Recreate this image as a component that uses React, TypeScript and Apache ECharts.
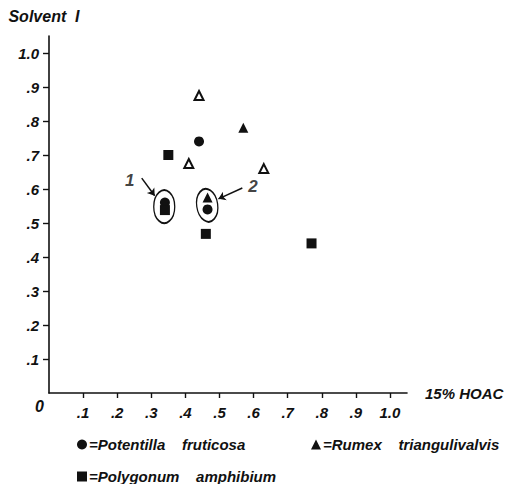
import React, { useEffect, useRef } from "react";
import * as echarts from "echarts";

// Tick values and labels
const tickValues = [0.1, 0.2, 0.3, 0.4, 0.5, 0.6, 0.7, 0.8, 0.9, 1.0];
const tickLabels = [".1", ".2", ".3", ".4", ".5", ".6", ".7", ".8", ".9", "1.0"];

// Series values: [15% HOAC, Solvent I]
const potentilla = [
  [0.44, 0.74],
  [0.34, 0.56],
  [0.465, 0.54],
];
const rumex = [
  [0.57, 0.78],
  [0.465, 0.575],
];
const unlisted = [
  [0.44, 0.875],
  [0.41, 0.675],
  [0.63, 0.66],
];
const polygonum = [
  [0.35, 0.70],
  [0.34, 0.538],
  [0.46, 0.468],
  [0.77, 0.44],
];

// Annotations (data coordinates)
const groupCenters = [
  [0.338, 0.548],
  [0.464, 0.552],
];
const arrows = [
  [[0.272, 0.632], [0.31, 0.58]],
  [[0.567, 0.603], [0.497, 0.571]],
];
const groupLabels = [
  { name: "1", value: [0.237, 0.626] },
  { name: "2", value: [0.598, 0.607] },
];

const FONT = "Liberation Sans";
const INK = "#111111";

function fmtTick(v: number) {
  const i = tickValues.findIndex((t) => Math.abs(t - v) < 1e-6);
  return i >= 0 ? tickLabels[i] : "";
}

const legendName = (n: string) => "=" + n.replace(" ", "    ");

export default function App() {
  const ref = useRef<HTMLDivElement>(null);
  useEffect(() => {
    if (!ref.current) return;
    const chart = echarts.init(ref.current, null, { renderer: "svg" });
    const labelStyle = {
      fontFamily: FONT,
      fontStyle: "italic",
      fontWeight: "bold",
      fontSize: 15,
      color: INK,
    };
    const legendCommon = {
      itemWidth: 10,
      itemHeight: 10,
      itemGap: 0,
      padding: 0,
      selectedMode: false,
      formatter: legendName,
      textStyle: { ...labelStyle, fontSize: 15, padding: [0, 0, 0, -3] },
    };
    chart.setOption({
      animation: false,
      backgroundColor: "#ffffff",
      grid: { left: 49, right: 104, top: 36, bottom: 91 },
      xAxis: {
        type: "value",
        min: 0,
        max: 1.05,
        name: "15% HOAC",
        nameLocation: "end",
        nameGap: 18,
        nameTextStyle: { ...labelStyle, fontSize: 15 },
        axisLine: { show: true, lineStyle: { color: INK, width: 1.6 } },
        axisTick: { show: true, length: 5, customValues: tickValues, lineStyle: { color: INK, width: 1.4 } },
        axisLabel: { customValues: tickValues, formatter: fmtTick, margin: 12, ...labelStyle },
        splitLine: { show: false },
      },
      yAxis: {
        type: "value",
        min: 0,
        max: 1.05,
        name: "Solvent  I",
        nameLocation: "end",
        nameGap: 12,
        nameTextStyle: { ...labelStyle, fontSize: 16, align: "center", padding: [0, 10, 0, 0] },
        axisLine: { show: true, lineStyle: { color: INK, width: 1.6 } },
        axisTick: { show: true, length: 6, customValues: tickValues, lineStyle: { color: INK, width: 1.4 } },
        axisLabel: { customValues: tickValues, formatter: fmtTick, margin: 10, ...labelStyle },
        splitLine: { show: false },
      },
      legend: [
        { ...legendCommon, data: ["Potentilla fruticosa"], left: 77, top: 437 },
        { ...legendCommon, data: ["Rumex triangulivalvis"], left: 311, top: 437 },
        { ...legendCommon, data: ["Polygonum amphibium"], left: 77, top: 469 },
      ],
      graphic: [
        {
          type: "text",
          left: 35,
          top: 398,
          style: { text: "0", font: `italic bold 16px "${FONT}"`, fill: INK },
        },
      ],
      series: [
        {
          name: "groups",
          type: "scatter",
          z: 1,
          data: [
            { value: groupCenters[0], symbolRotate: 0 },
            { value: groupCenters[1], symbolRotate: 8 },
          ],
          symbol: "circle",
          symbolSize: [21, 33],
          itemStyle: { color: "rgba(0,0,0,0)", borderColor: INK, borderWidth: 1.6, opacity: 1 },
          silent: true,
        },
        {
          name: "arrows",
          type: "lines",
          coordinateSystem: "cartesian2d",
          z: 1,
          symbol: ["none", "arrow"],
          symbolSize: 7,
          lineStyle: { color: INK, width: 1.5, opacity: 1 },
          data: arrows.map((c) => ({ coords: c })),
          silent: true,
        },
        {
          name: "labels",
          type: "scatter",
          symbolSize: 0,
          data: groupLabels,
          label: {
            show: true,
            formatter: (p: any) => p.name,
            position: "inside",
            fontFamily: FONT,
            fontStyle: "italic",
            fontWeight: "bold",
            fontSize: 17,
            color: INK,
          },
          silent: true,
        },
        {
          name: "Unlisted",
          type: "scatter",
          z: 3,
          symbol: "triangle",
          symbolSize: 9,
          data: unlisted,
          itemStyle: { color: "#ffffff", borderColor: INK, borderWidth: 2, opacity: 1 },
        },
        {
          name: "Potentilla fruticosa",
          type: "scatter",
          z: 3,
          symbol: "circle",
          symbolSize: 10,
          data: potentilla,
          itemStyle: { color: INK, opacity: 1 },
        },
        {
          name: "Rumex triangulivalvis",
          type: "scatter",
          z: 3,
          symbol: "triangle",
          symbolSize: 10,
          data: rumex,
          itemStyle: { color: INK, opacity: 1 },
        },
        {
          name: "Polygonum amphibium",
          type: "scatter",
          z: 3,
          symbol: "rect",
          symbolSize: 10,
          data: polygonum,
          itemStyle: { color: INK, opacity: 1 },
        },
      ],
    });
    return () => chart.dispose();
  }, []);
  return (
    <div
      ref={ref}
      style={{ position: "fixed", left: 0, top: 0, width: 511, height: 484 }}
    />
  );
}
